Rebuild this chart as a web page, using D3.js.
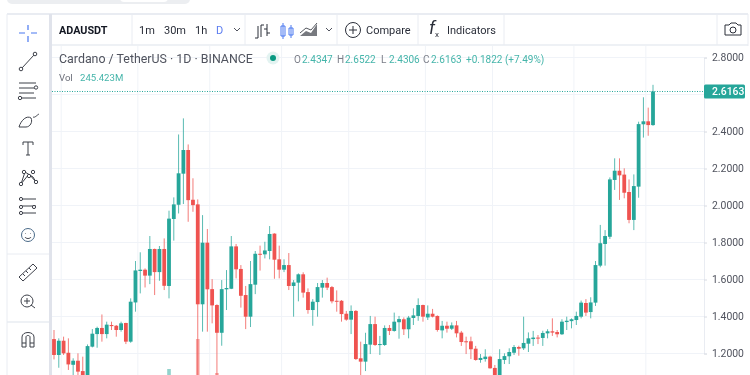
<!DOCTYPE html>
<html lang="en">
<head>
<meta charset="UTF-8">
<title>ADAUSDT</title>
<script src="https://cdn.jsdelivr.net/npm/d3@7"></script>
<style>
    html, body { margin: 0; padding: 0; background: #fff; overflow: hidden; }
    svg { display: block; font-family: Roboto, sans-serif; filter: blur(0.35px); }
</style>
</head>
<body>
<script>
// candles, left to right
var opens = [1.278,1.192,1.269,1.204,1.139,1.161,1.105,1.08,1.237,1.305,1.338,1.305,1.354,1.350,1.327,1.365,1.264,1.476,1.646,1.653,1.621,1.765,1.640,1.765,1.565,1.927,2.004,2.172,2.300,2.031,2.006,1.466,1.799,1.548,1.462,1.312,1.547,1.550,1.779,1.657,1.516,1.399,1.572,1.739,1.736,1.754,1.848,1.709,1.653,1.678,1.565,1.583,1.628,1.532,1.435,1.478,1.556,1.581,1.559,1.485,1.485,1.415,1.383,1.430,1.174,1.156,1.248,1.359,1.246,1.246,1.338,1.322,1.369,1.385,1.331,1.392,1.403,1.462,1.395,1.415,1.403,1.325,1.350,1.334,1.352,1.313,1.266,1.266,1.226,1.165,1.170,1.183,1.122,1.07,1.165,1.185,1.204,1.235,1.228,1.253,1.278,1.286,1.284,1.309,1.320,1.316,1.304,1.370,1.375,1.381,1.399,1.473,1.424,1.475,1.675,1.792,1.831,2.138,2.188,2.167,2.073,1.922,2.102,2.439,2.455,2.4347];
var highs = [1.327,1.282,1.291,1.282,1.174,1.201,1.183,1.249,1.332,1.345,1.411,1.372,1.372,1.354,1.372,1.366,1.498,1.700,1.747,1.660,1.835,1.767,1.781,1.822,1.972,2.044,2.384,2.471,2.330,2.147,2.033,1.948,1.873,1.602,1.466,1.597,1.651,1.835,1.792,1.678,1.565,1.700,1.754,1.783,1.804,1.889,1.850,1.783,1.709,1.743,1.597,1.633,1.639,1.552,1.494,1.581,1.597,1.610,1.565,1.541,1.489,1.430,1.460,1.435,1.264,1.312,1.403,1.399,1.295,1.352,1.354,1.421,1.403,1.395,1.403,1.444,1.498,1.464,1.460,1.441,1.406,1.376,1.372,1.368,1.376,1.322,1.291,1.291,1.241,1.197,1.223,1.188,1.138,1.223,1.201,1.228,1.246,1.242,1.399,1.314,1.322,1.300,1.323,1.331,1.390,1.327,1.385,1.399,1.390,1.426,1.486,1.494,1.504,1.700,1.895,1.867,2.152,2.255,2.255,2.201,2.141,2.168,2.453,2.585,2.529,2.6522];
var lows = [1.168,1.123,1.192,1.111,1.07,1.07,1.06,1.07,1.233,1.231,1.264,1.282,1.327,1.291,1.318,1.251,1.258,1.426,1.525,1.557,1.575,1.516,1.593,1.543,1.498,1.810,1.957,2.008,1.912,1.966,1.03,1.318,1.318,1.363,1.07,1.242,1.435,1.548,1.606,1.448,1.332,1.343,1.521,1.648,1.714,1.709,1.604,1.606,1.640,1.543,1.399,1.482,1.502,1.415,1.350,1.399,1.502,1.543,1.471,1.426,1.372,1.377,1.305,1.165,1.075,1.105,1.197,1.241,1.192,1.241,1.300,1.318,1.280,1.300,1.282,1.354,1.377,1.372,1.381,1.395,1.318,1.282,1.313,1.327,1.287,1.241,1.197,1.170,1.161,1.150,1.156,1.118,1.05,1.05,1.143,1.143,1.192,1.188,1.219,1.208,1.241,1.251,1.241,1.282,1.295,1.287,1.300,1.327,1.336,1.354,1.390,1.403,1.390,1.457,1.666,1.675,1.819,2.084,2.030,2.039,1.904,1.867,2.042,2.367,2.377,2.4306];
var closes = [1.192,1.269,1.201,1.141,1.161,1.102,1.08,1.240,1.307,1.338,1.305,1.356,1.348,1.327,1.363,1.264,1.480,1.649,1.653,1.621,1.765,1.640,1.765,1.566,1.929,2.006,2.174,2.300,2.029,2.002,1.466,1.799,1.547,1.460,1.312,1.548,1.554,1.779,1.655,1.512,1.399,1.575,1.739,1.734,1.757,1.846,1.707,1.653,1.678,1.565,1.584,1.628,1.529,1.435,1.480,1.559,1.581,1.556,1.482,1.482,1.413,1.383,1.430,1.170,1.156,1.251,1.359,1.246,1.251,1.338,1.322,1.372,1.386,1.331,1.394,1.406,1.462,1.399,1.415,1.399,1.327,1.350,1.334,1.352,1.309,1.262,1.262,1.223,1.165,1.176,1.183,1.120,1.07,1.170,1.186,1.208,1.235,1.226,1.257,1.282,1.286,1.282,1.311,1.320,1.313,1.304,1.372,1.377,1.385,1.403,1.475,1.421,1.476,1.678,1.796,1.835,2.141,2.188,2.163,2.069,1.922,2.105,2.440,2.455,2.4347,2.6163];

// only the tallest volume bars reach into the picture
var volumeCandles = [24,30,34];
var volumeValues = [820,1420,740];

var priceGrid = [2.8,2.6,2.4,2.2,2.0,1.8,1.6,1.4,1.2];
var priceLabels = [2.8,2.4,2.2,2.0,1.8,1.6,1.4,1.2]; // 2.6 sits under the last price tag
var timeGrid = [1,17,32,47,61,77,91,108,123];
var lastPrice = 2.6163;
var intervals = ["1m","30m","1h","D"];

var green = "#26a69a", red = "#ef5350", line = "#e9ecf2", ink = "#50535e";
var width = 750, height = 375;

var svg = d3.select("body").append("svg").attr("width", width).attr("height", height);

var x = d3.scaleLinear().domain([0,125]).range([54,653]);
var y = d3.scaleLinear().domain([1.2,2.8]).range([353.5,57.5]);
var yVol = d3.scaleLinear().domain([0,2000]).range([410,310]);

// top bit of the page above the widget
svg.append("rect").attr("x",7).attr("y",-8).attr("width",183).attr("height",12).attr("rx",5).attr("fill","#eceef1");
svg.append("rect").attr("x",120).attr("y",-8).attr("width",48).attr("height",10).attr("rx",4).attr("fill","#fff");

var clip = svg.append("clipPath").attr("id","pane").append("rect")
    .attr("x",52).attr("y",46).attr("width",652).attr("height",329);

var pane = svg.append("g").attr("clip-path","url(#pane)");

// grid
pane.selectAll(".gy").data(priceGrid).enter().append("line")
    .attr("x1",52).attr("x2",704).attr("y1",d=>y(d)).attr("y2",d=>y(d))
    .attr("stroke","#f0f3f8");
pane.selectAll(".gx").data(timeGrid).enter().append("line")
    .attr("x1",d=>x(d)+2.4).attr("x2",d=>x(d)+2.4).attr("y1",46).attr("y2",375)
    .attr("stroke","#f0f3f8");

// volume
pane.selectAll(".vol").data(volumeCandles).enter().append("rect")
    .attr("x",d=>x(d)-1.8).attr("width",3.6)
    .attr("y",(d,i)=>yVol(volumeValues[i])).attr("height",100)
    .attr("fill",d=>closes[d]>=opens[d]?green:red).attr("opacity",0.5);

// candles
var candle = pane.selectAll(".candle").data(d3.range(opens.length)).enter().append("g");
candle.append("line")
    .attr("x1",i=>x(i)).attr("x2",i=>x(i))
    .attr("y1",i=>y(highs[i])).attr("y2",i=>y(lows[i]))
    .attr("stroke",i=>closes[i]>=opens[i]?green:red).attr("stroke-width",0.9).attr("opacity",0.85);
candle.append("rect")
    .attr("x",i=>x(i)-1.9).attr("width",3.8)
    .attr("y",i=>y(Math.max(opens[i],closes[i])))
    .attr("height",i=>Math.max(1,Math.abs(y(opens[i])-y(closes[i]))))
    .attr("fill",i=>closes[i]>=opens[i]?green:red);

// last price line
pane.append("line").attr("x1",52).attr("x2",704).attr("y1",y(lastPrice)).attr("y2",y(lastPrice))
    .attr("stroke",green).attr("stroke-dasharray","1 1.5");

// price axis
var axis = d3.axisRight(y).tickValues(priceLabels).tickFormat(d3.format(".4f")).tickSize(3).tickPadding(5);
var axisG = svg.append("g").attr("transform","translate(704,0)").call(axis);
axisG.select(".domain").attr("stroke",line);
axisG.selectAll(".tick line").attr("stroke","#d8dbe2");
axisG.selectAll(".tick text").attr("fill",ink).attr("font-size",10.4).attr("font-family","Roboto, sans-serif");

svg.append("rect").attr("x",704).attr("y",y(lastPrice)-7).attr("width",41).attr("height",14).attr("rx",1.5).attr("fill",green);
svg.append("text").attr("x",712).attr("y",y(lastPrice)+3.8).attr("fill","#fff").attr("font-size",10.4).attr("font-weight",500).text(d3.format(".4f")(lastPrice));

// frame and separators
function rule(x1,y1,x2,y2,w,c){
    svg.append("line").attr("x1",x1).attr("y1",y1).attr("x2",x2).attr("y2",y2)
        .attr("stroke",c||line).attr("stroke-width",w||1);
}
rule(7,14,748,14,2);
rule(7,14,7,375,1);
rule(748,14,748,46,1);
rule(50.5,14,50.5,375,3,"#e0e3eb");
rule(52,45,748,45,1.5);
[132,245,337,418,504,717].forEach(d=>rule(d,15,d,45,1));
rule(7,254,49,254,1);
rule(7,322,49,322,1.5);

// toolbar text
function label(t,px,py,size,fill,weight){
    return svg.append("text").attr("x",px).attr("y",py).attr("font-size",size)
        .attr("fill",fill||"#131722").attr("font-weight",weight||400).text(t);
}
label("ADAUSDT",59,34,10.8,"#131722",700);
var intervalX = [139,164,195,216];
intervals.forEach((d,i)=>label(d,intervalX[i],34,11,d=="D"?"#5b7cf0":"#2a2e39"));
label("Compare",366,34,11,"#2a2e39");
label("Indicators",447,34,11,"#2a2e39");

// legend
label("Cardano / TetherUS · 1D · BINANCE",59,63,12.4,"#50535e");
svg.append("circle").attr("cx",273).attr("cy",58).attr("r",6.5).attr("fill","#e3f3f1");
svg.append("circle").attr("cx",273).attr("cy",58).attr("r",3).attr("fill","#089981");
var ohlcNames = ["O","H","L","C"], ohlcValues = ["2.4347","2.6522","2.4306","2.6163"], ohlcX = [294,337,381,423];
ohlcNames.forEach((d,i)=>{
    label(d,ohlcX[i],63,10,"#7b7e88");
    label(ohlcValues[i],ohlcX[i]+8,63,10,"#45b5aa");
});
label("+0.1822 (+7.49%)",466,63,10,"#45b5aa");
label("Vol",59,81,9.6,"#6a6d78");
label("245.423M",80,81,9.6,"#45b5aa");

// icons
function icon(px,py,d,c,w){
    svg.append("path").attr("transform","translate("+px+","+py+")").attr("d",d)
        .attr("fill","none").attr("stroke",c||"#3d4049").attr("stroke-width",w||1);
}
function dot(px,py,r,c){
    svg.append("circle").attr("cx",px).attr("cy",py).attr("r",r).attr("fill","#fff").attr("stroke",c||"#3d4049");
}
icon(28,33,"M-9 0H-3M3 0H9M0 -8V-3M0 3V9","#4a78f0",1.2);
icon(0,0,"M22 68L34 55");
dot(21,69,1.8); dot(35,54,1.8);
icon(0,0,"M19 83H36M19 88H36M22 98H36M19 93H34");
dot(36,87.5,1.7); dot(20,98,1.7);
icon(0,0,"M19 127C21 120 27 115 31 118C33 122 30 127 26 127H19M33 117C35 118 37 115 39 114");
icon(0,0,"M23 145V142H33V145M28 142V155M26 155H30");
icon(0,0,"M21 184L25 172L33 177L36 182L29 174L21 184");
dot(21,184,1.7); dot(24,172,1.7); dot(33,172,1.7); dot(36,182,1.7); dot(29,176,1.7);
icon(0,0,"M20 199H36M20 206H36M20 213H36");
dot(21,199,1.6); dot(21,207,1.6); dot(21,213,1.6); dot(34,207,1.6);
svg.append("circle").attr("cx",28).attr("cy",235).attr("r",6.5).attr("fill","#fff").attr("stroke","#4a6a88");
icon(0,0,"M25 237C26 239 30 239 31 237M25.5 233V233.5M30.5 233V233.5","#3d4049");
icon(0,0,"M19 277L33 264L37 268L23 281ZM23 274L25 276M26 271L28 273M29 268L31 270");
svg.append("circle").attr("cx",27).attr("cy",301).attr("r",6).attr("fill","none").attr("stroke","#3d4049");
icon(0,0,"M24 301H30M27 298V304M31 305L35 308");
icon(0,0,"M22 347V337C22 331 34 331 34 337V347H30V337C30 335 26 335 26 337V347ZM22 343H26M30 343H34");

icon(0,0,"M234 28L237 31L240 28","#50535e");
icon(0,0,"M326 28L329 31L332 28","#50535e");
icon(0,0,"M258 26V38M255 38H258M261 25V37M261 25H264M267 24V36M264 29H267M267 33H270","#2a2e39");
icon(0,0,"M281 26H285V36H281ZM283 23V39M289 28H293V35H289ZM291 25V38","#4a78f0");
svg.append("path").attr("d","M300 36L306 31L311 33L317 24V36Z").attr("fill","#77797f");
icon(0,0,"M300 33L306 28L311 30L317 23","#55585f");
svg.append("circle").attr("cx",353).attr("cy",30).attr("r",7.5).attr("fill","none").attr("stroke","#2a2e39");
icon(0,0,"M349 30H357M353 26V34","#2a2e39");
svg.append("text").attr("x",429).attr("y",34).attr("font-size",18).attr("font-style","italic").attr("fill","#2a2e39").text("f");
svg.append("text").attr("x",435).attr("y",37).attr("font-size",8).attr("fill","#2a2e39").text("x");
icon(0,0,"M725 25H729L731 23H736L738 25H741V35H725Z","#2a2e39");
svg.append("circle").attr("cx",733).attr("cy",30).attr("r",3).attr("fill","none").attr("stroke","#2a2e39");
</script>
</body>
</html>
